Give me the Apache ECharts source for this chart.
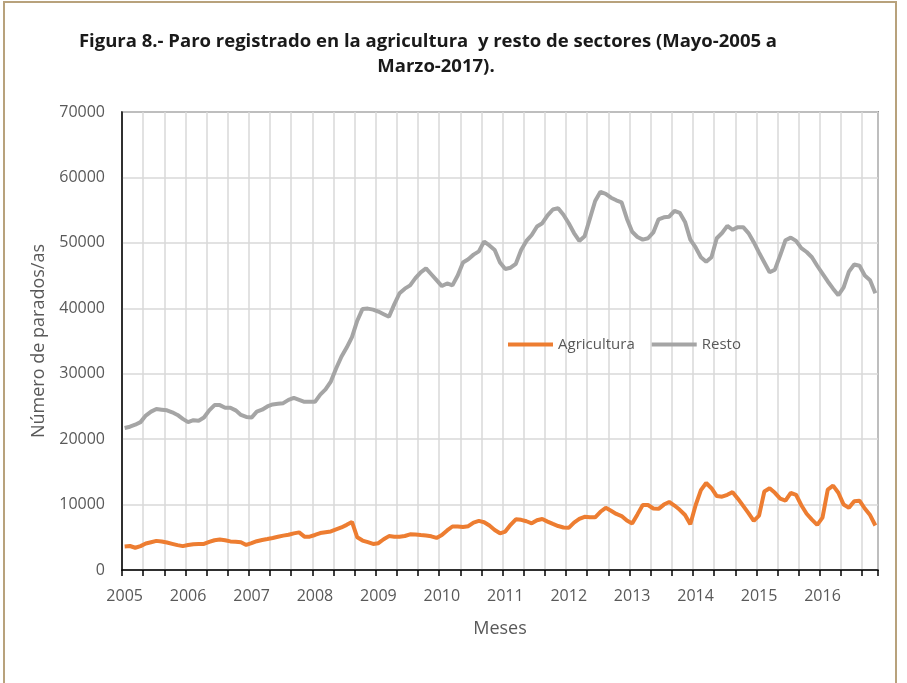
<!DOCTYPE html>
<html>
<head>
<meta charset="utf-8">
<script src="https://cdn.jsdelivr.net/npm/echarts@6/dist/echarts.min.js"></script>
<style>
html,body{margin:0;padding:0;background:#fff;}
#chart{width:907px;height:683px;}
</style>
</head>
<body>
<div id="chart"></div>
<script>
// Months: May-2005 .. Mar-2017 (143 monthly categories)
const startYear = 2005, startMonth = 5, monthCount = 143;
const categories = [];
for (let k = 0; k < monthCount; k++) {
  const m = (startMonth - 1 + k) % 12 + 1;
  const y = startYear + Math.floor((startMonth - 1 + k) / 12);
  categories.push(y + '-' + (m < 10 ? '0' + m : m));
}
const yearLabels = ['2005','2006','2007','2008','2009','2010','2011','2012','2013','2014','2015','2016'];

const agricultura = [
  3600,3670,3400,3650,4050,4250,4450,4350,4200,4000,3800,3650,
  3820,3950,3980,3980,4300,4550,4650,4550,4370,4330,4250,3830,
  4100,4400,4580,4730,4900,5080,5250,5380,5600,5750,5100,5090,
  5350,5650,5780,5900,6200,6500,6900,7350,5000,4500,4250,3980,
  4100,4700,5180,5090,5090,5200,5450,5430,5340,5260,5150,4900,
  5350,6050,6650,6650,6580,6700,7250,7500,7300,6800,6120,5610,
  5880,6900,7750,7670,7450,7140,7600,7800,7400,7050,6720,6500,
  6450,7250,7800,8130,8060,8050,8900,9500,9050,8570,8250,7550,
  7100,8500,9940,9940,9400,9350,10000,10400,9850,9200,8400,7000,
  9900,12200,13300,12500,11300,11200,11500,11900,10900,9800,8700,7500,
  8300,12000,12490,11800,10900,10600,11800,11500,9900,8600,7700,6900,
  8000,12300,12900,11800,10000,9500,10500,10600,9400,8400,6800
];

const resto = [
  21700,21900,22200,22600,23600,24200,24600,24500,24400,24100,23700,23100,
  22600,22900,22800,23300,24400,25200,25200,24800,24800,24400,23700,23400,
  23300,24200,24500,25000,25300,25400,25500,26000,26300,26000,25700,25700,
  25700,26800,27600,28800,30800,32600,34000,35600,38100,39900,39950,39800,
  39500,39100,38700,40600,42300,43000,43500,44600,45500,46100,45200,44300,
  43400,43800,43500,45000,47000,47500,48200,48700,50200,49600,48900,47000,
  46000,46200,46800,48900,50300,51200,52500,53000,54200,55100,55300,54300,
  53000,51500,50300,51000,53700,56400,57800,57500,56900,56500,56200,53700,
  51700,50900,50500,50700,51600,53600,53900,54000,54900,54600,53200,50500,
  49300,47800,47100,47800,50700,51500,52600,52000,52400,52400,51500,50100,
  48500,47000,45500,45900,48100,50400,50800,50300,49200,48600,47800,46500,
  45300,44100,43000,42000,43200,45600,46700,46500,45000,44300,42300
];

const FONT = '"Open Sans", "Liberation Sans", sans-serif';
const chart = echarts.init(document.getElementById('chart'), null, {renderer: 'canvas'});
chart.setOption({
  animation: false,
  backgroundColor: '#ffffff',
  textStyle: {fontFamily: FONT},
  graphic: [
    {type: 'rect', silent: true, z: 100,
     shape: {x: 4, y: 2, width: 892, height: 720},
     style: {fill: 'none', stroke: '#b8a27c', lineWidth: 2}},
    {type: 'text', silent: true, z: 100,
     style: {x: 428, y: 42, text: 'Figura 8.- Paro registrado en la agricultura  y resto de sectores (Mayo-2005 a',
       align: 'center', verticalAlign: 'middle', fill: '#1a1a1a',
       font: 'bold 18.5px ' + FONT}},
    {type: 'text', silent: true, z: 100,
     style: {x: 436, y: 67, text: 'Marzo-2017).',
       align: 'center', verticalAlign: 'middle', fill: '#1a1a1a',
       font: 'bold 18.5px ' + FONT}}
  ],
  grid: {left: 122, right: 29, top: 112, bottom: 113, show: true,
         borderColor: '#404040', borderWidth: 1.5, containLabel: false},
  legend: {
    left: 503, top: 332, itemGap: 17, itemWidth: 45, itemHeight: 4,
    icon: 'rect',
    textStyle: {color: '#595959', fontSize: 15, fontFamily: FONT},
    data: ['Agricultura', 'Resto']
  },
  xAxis: {
    type: 'category', data: categories, boundaryGap: true,
    name: 'Meses', nameLocation: 'middle', nameGap: 50,
    nameTextStyle: {color: '#595959', fontSize: 18, fontFamily: FONT},
    axisLine: {lineStyle: {color: '#000000', width: 1.5}},
    axisTick: {show: true, interval: 3, length: 6, inside: false, lineStyle: {color: '#000000', width: 1.5}},
    axisLabel: {interval: 11, color: '#595959', fontSize: 16, margin: 18, fontFamily: FONT,
      formatter: function (v, idx) { return yearLabels[Math.round(idx / 12)] || ''; }},
    splitLine: {show: true, interval: 3, lineStyle: {color: '#d9d9d9', width: 1.5}}
  },
  yAxis: {
    type: 'value', min: 0, max: 70000, interval: 10000,
    name: 'Número de parados/as', nameLocation: 'middle', nameGap: 74,
    nameTextStyle: {color: '#595959', fontSize: 18, fontFamily: FONT},
    axisLine: {show: true, lineStyle: {color: '#000000', width: 1.5}},
    axisTick: {show: false},
    axisLabel: {color: '#595959', fontSize: 16, margin: 17, fontFamily: FONT,
      formatter: function (v) { return String(v); }},
    splitLine: {show: true, lineStyle: {color: '#d9d9d9', width: 1.5}}
  },
  series: [
    {name: 'Agricultura', type: 'line', data: agricultura, showSymbol: false, symbol: 'none',
     itemStyle: {color: '#ED7D31'}, lineStyle: {color: '#ED7D31', width: 4}, z: 3},
    {name: 'Resto', type: 'line', data: resto, showSymbol: false, symbol: 'none',
     itemStyle: {color: '#A5A5A5'}, lineStyle: {color: '#A5A5A5', width: 4}, z: 3}
  ]
});
</script>
</body>
</html>
